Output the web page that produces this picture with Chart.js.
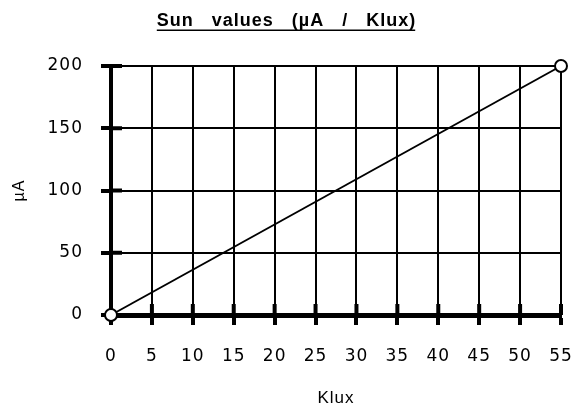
<!DOCTYPE html>
<html>
<head>
<meta charset="utf-8">
<script src="https://cdn.jsdelivr.net/npm/chart.js@4/dist/chart.umd.min.js"></script>
<style>
  html, body { margin: 0; padding: 0; background: #fff; }
  #wrap { width: 573px; height: 405px; }
</style>
</head>
<body>
<div id="wrap"><canvas id="c" width="573" height="405"></canvas></div>
<script>
const chartTitle = 'Sun   values   (µA   /   Klux)';
const xAxisTitle = 'Klux';
const yAxisTitle = 'µA';
const luxValues = [0, 55];
const currentValues = [0, 200];
const xTicks = [0, 5, 10, 15, 20, 25, 30, 35, 40, 45, 50, 55];
const yTicks = [0, 50, 100, 150, 200];

const points = luxValues.map((x, i) => ({ x: x, y: currentValues[i] }));
const SPACING = 1;

const spacingPlugin = {
  id: 'spacing',
  beforeUpdate(chart) { chart.ctx.letterSpacing = SPACING + 'px'; },
  beforeDraw(chart) { chart.ctx.letterSpacing = SPACING + 'px'; }
};

const crossTicks = {
  id: 'crossTicks',
  beforeDatasetsDraw(chart) {
    const ctx = chart.ctx;
    const a = chart.chartArea;
    const xs = chart.scales.x, ys = chart.scales.y;
    ctx.save();
    ctx.strokeStyle = '#000';
    ctx.lineWidth = 4;
    ctx.beginPath();
    xs.ticks.forEach(t => {
      const px = xs.getPixelForValue(t.value);
      ctx.moveTo(px, a.bottom);
      ctx.lineTo(px, a.bottom - 11);
    });
    ys.ticks.forEach(t => {
      const py = ys.getPixelForValue(t.value);
      ctx.moveTo(a.left, py);
      ctx.lineTo(a.left + 11, py);
    });
    ctx.stroke();
    ctx.restore();
  }
};

const underline = {
  id: 'underline',
  afterDraw(chart) {
    const tb = chart.titleBlock;
    if (!tb) return;
    const ctx = chart.ctx;
    const opts = chart.options.plugins.title;
    ctx.save();
    ctx.letterSpacing = SPACING + 'px';
    ctx.font = 'bold ' + opts.font.size + 'px ' + opts.font.family;
    const w = ctx.measureText(chartTitle).width - SPACING;
    const cx = (tb.left + tb.right) / 2 - SPACING / 2;
    const y = tb.top + opts.padding.top + opts.font.size * 1.2 / 2 + 9.5;
    ctx.strokeStyle = '#000';
    ctx.lineWidth = 1.5;
    ctx.beginPath();
    ctx.moveTo(cx - w / 2, y);
    ctx.lineTo(cx + w / 2, y);
    ctx.stroke();
    ctx.restore();
  }
};

new Chart(document.getElementById('c'), {
  type: 'scatter',
  data: {
    datasets: [{
      data: points,
      showLine: true,
      borderColor: '#000',
      borderWidth: 2,
      pointRadius: 6,
      pointHoverRadius: 6,
      pointBackgroundColor: '#fff',
      pointBorderColor: '#000',
      pointBorderWidth: 2,
      clip: false
    }]
  },
  options: {
    responsive: false,
    animation: false,
    events: [],
    layout: { padding: { left: 12, right: 12, top: 0, bottom: 0 } },
    plugins: {
      legend: { display: false },
      tooltip: { enabled: false },
      title: {
        display: true,
        text: chartTitle,
        color: '#000',
        font: { family: 'Liberation Sans', size: 18, weight: 'bold' },
        padding: { top: 10, bottom: 34.4 }
      }
    },
    scales: {
      x: {
        type: 'linear',
        min: 0,
        max: 55,
        afterBuildTicks(scale) { scale.ticks = xTicks.map(v => ({ value: v })); },
        afterFit(scale) { scale.height = 90; scale.paddingRight = 0; scale.paddingLeft = 0; },
        grid: { color: '#000', lineWidth: 2, drawTicks: true, tickLength: 10, tickWidth: 4, tickColor: '#000' },
        border: { color: '#000', width: 5 },
        ticks: { color: '#000', padding: 21, maxRotation: 0, font: { family: 'DejaVu Sans', size: 17 } },
        title: { display: true, text: xAxisTitle, color: '#000', font: { family: 'Liberation Sans', size: 17, lineHeight: 1 }, padding: { top: 0, bottom: -1.5 } }
      },
      y: {
        type: 'linear',
        min: 0,
        max: 200,
        afterBuildTicks(scale) { scale.ticks = yTicks.map(v => ({ value: v })); },
        afterFit(scale) { scale.width = 99; },
        grid: { color: '#000', lineWidth: 2, drawTicks: true, tickLength: 10, tickWidth: 4, tickColor: '#000' },
        border: { color: '#000', width: 4 },
        ticks: { color: '#000', padding: 18, font: { family: 'DejaVu Sans', size: 17 } },
        title: { display: true, text: yAxisTitle, color: '#000', font: { family: 'Liberation Sans', size: 16, lineHeight: 1 }, padding: { top: 0, bottom: 0 } }
      }
    }
  },
  plugins: [spacingPlugin, crossTicks, underline]
});
</script>
</body>
</html>
